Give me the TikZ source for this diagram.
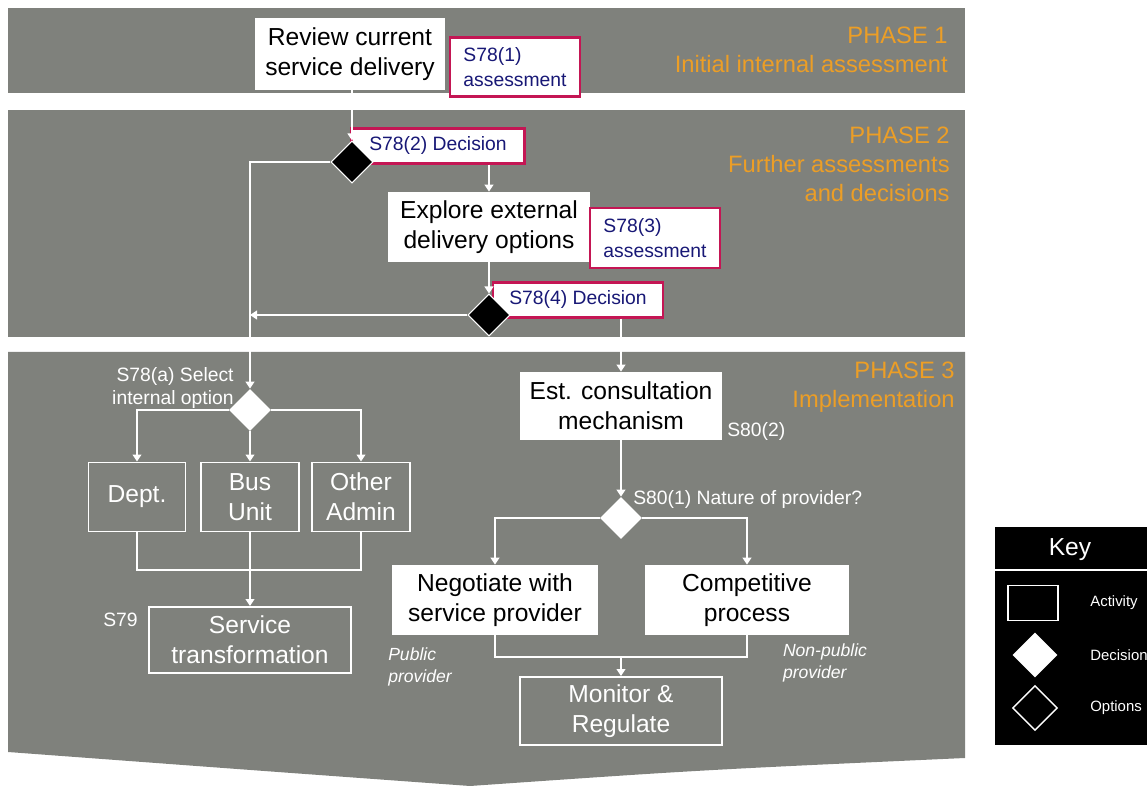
\documentclass[tikz,border=0pt]{standalone}
\usepackage{fontspec}
\setmainfont{Liberation Sans}
\usetikzlibrary{shapes.geometric,arrows.meta}

\definecolor{bandgrey}{RGB}{127,129,124}
\definecolor{phaseorange}{RGB}{236,158,38}
\definecolor{refred}{RGB}{196,22,84}
\definecolor{refblue}{RGB}{24,24,118}

\tikzset{
	actbox/.style={fill=white, text=black, align=center, inner sep=0pt, font=\fontsize{14}{17}\selectfont},
	optbox/.style={draw=white, line width=1.1pt, text=white, align=center, inner sep=0pt, font=\fontsize{14}{17}\selectfont},
	refbox/.style={draw=refred, line width=1.3pt, fill=white, text=refblue, align=left, inner sep=0pt, font=\fontsize{11}{14}\selectfont},
	decision/.style={diamond, fill=black, draw=white, line width=0.6pt, minimum size=0.84cm, inner sep=0pt},
	options/.style={diamond, fill=white, minimum size=0.84cm, inner sep=0pt},
	link/.style={draw=white, line width=1.1pt},
	arr/.style={link, -{Triangle[width=5pt,length=4pt]}},
	phasetext/.style={text=phaseorange, align=right, anchor=north east, inner sep=0pt, font=\fontsize{13.5}{16.5}\selectfont},
	note/.style={text=white, inner sep=0pt, font=\fontsize{11}{13}\selectfont},
	keytext/.style={text=white, anchor=west, inner sep=0pt, font=\fontsize{8.5}{10}\selectfont}
}

\begin{document}
\begin{tikzpicture}[x=0.02cm, y=-0.02cm]
	\useasboundingbox (0,0) rectangle (1147,786);

	\fill[bandgrey] (8,8) rectangle (965,93); % Phase 1.
	\fill[bandgrey] (8,110) rectangle (965,337); % Phase 2.
	\fill[bandgrey] (8,352) -- (965,352) -- (965,758) .. controls (700,770) .. (470,786) .. controls (250,770) .. (8,752) -- cycle; % Phase 3.

	\node[phasetext] (phaseone) at (948,27) {PHASE 1\\Initial internal assessment};
	\node[phasetext] (phasetwo) at (950,127) {PHASE 2\\Further assessments\\and decisions};
	\node[phasetext] (phasethree) at (955,362) {PHASE 3\\Implementation};

	% Phases 1 and 2
	\node[actbox, minimum width=3.8cm, minimum height=1.44cm] (review) at (350,54) {Review current\\service delivery};
	\node[refbox, minimum width=2.6cm, minimum height=1.18cm] (assessone) at (515,67) {S78(1)\\assessment};
	\node[refbox, minimum width=3.46cm, minimum height=0.7cm] (decisionone) at (438,146) {S78(2) Decision};
	\node[decision] (decone) at (352,162) {};
	\node[actbox, minimum width=4.04cm, minimum height=1.4cm] (explore) at (489,227) {Explore external\\delivery options};
	\node[refbox, minimum width=2.6cm, minimum height=1.2cm] (assessthree) at (655,238) {S78(3)\\assessment};
	\node[refbox, minimum width=3.4cm, minimum height=0.7cm] (decisionfour) at (578,300) {S78(4) Decision};
	\node[decision] (dectwo) at (489,315) {};

	% Phase 3, internal options
	\node[options] (internal) at (250,410) {};
	\node[note, anchor=east, align=right] (internallabel) at (234,388) {S78(a) Select\\internal option};
	\node[optbox, minimum width=1.94cm, minimum height=1.38cm] (dept) at (137,497) {Dept.};
	\node[optbox, minimum width=1.96cm, minimum height=1.38cm] (bus) at (250,497) {Bus\\Unit};
	\node[optbox, minimum width=1.96cm, minimum height=1.38cm] (other) at (361,497) {Other\\Admin};
	\node[optbox, minimum width=4.04cm, minimum height=1.32cm] (service) at (250,640) {Service\\transformation};
	\node[note, anchor=east] (svnine) at (138,620) {S79};
	\coordinate (mergeleft) at (250,570);

	% Phase 3, external providers
	\node[actbox, minimum width=4.04cm, minimum height=1.36cm] (consult) at (621,406) {Est. consultation\\mechanism};
	\node[note, anchor=west] (eightytwo) at (727,432) {S80(2)};
	\node[options] (nature) at (621,518) {};
	\node[note, anchor=west] (naturelabel) at (633,500) {S80(1) Nature of provider?};
	\node[actbox, minimum width=4.12cm, minimum height=1.4cm] (negotiate) at (495,600) {Negotiate with\\service provider};
	\node[actbox, minimum width=4.1cm, minimum height=1.4cm] (compete) at (747,600) {Competitive\\process};
	\node[note, align=left, font=\fontsize{10}{12}\selectfont\itshape] (public) at (420,667) {Public\\provider};
	\node[note, align=left, font=\fontsize{10}{12}\selectfont\itshape] (nonpublic) at (825,663) {Non-public\\provider};
	\node[optbox, minimum width=4.04cm, minimum height=1.36cm] (monitor) at (621,711) {Monitor \&\\Regulate};
	\coordinate (mergeright) at (621,657);
	\coordinate (join) at (250,315);

	% Connectors
	\draw[arr] (decone.north |- review.south) -- (decone.north);
	\draw[arr] (decone.west) -| (internal.north);
	\draw[arr] (explore.north |- decisionone.south) -- (explore.north);
	\draw[arr] (dectwo.north |- explore.south) -- (dectwo.north);
	\draw[arr] (dectwo.west) -- (join);
	\draw[arr] (consult.north |- decisionfour.south) -- (consult.north);
	\draw[arr] (internal.west) -| (dept.north);
	\draw[arr] (internal.south) -- (bus.north);
	\draw[arr] (internal.east) -| (other.north);
	\draw[link] (dept.south) |- (mergeleft) -| (other.south);
	\draw[link] (bus.south) -- (mergeleft);
	\draw[arr] (mergeleft) -- (service.north);
	\draw[arr] (consult.south) -- (nature.north);
	\draw[arr] (nature.west) -| (negotiate.north);
	\draw[arr] (nature.east) -| (compete.north);
	\draw[link] (negotiate.south) |- (mergeright) -| (compete.south);
	\draw[arr] (mergeright) -- (monitor.north);

	% Key
	\fill[black] (995,527) rectangle (1147,745);
	\node[text=white, font=\fontsize{14}{17}\selectfont] (keytitle) at (1070,550) {Key};
	\draw[white, line width=0.8pt] (995,570) -- (1147,570);
	\node[draw=white, line width=1pt, minimum width=1cm, minimum height=0.7cm] (keyactivity) at (1033,603) {};
	\node[keytext] (keyactlabel) at (1090,603) {Activity};
	\node[options, minimum size=0.9cm] (keydecision) at (1035,655) {};
	\node[keytext] (keydeclabel) at (1090,655) {Decision};
	\node[diamond, draw=white, line width=0.8pt, minimum size=0.9cm, inner sep=0pt] (keyoptions) at (1035,708) {};
	\node[keytext] (keyoptlabel) at (1090,708) {Options};
\end{tikzpicture}
\end{document}
